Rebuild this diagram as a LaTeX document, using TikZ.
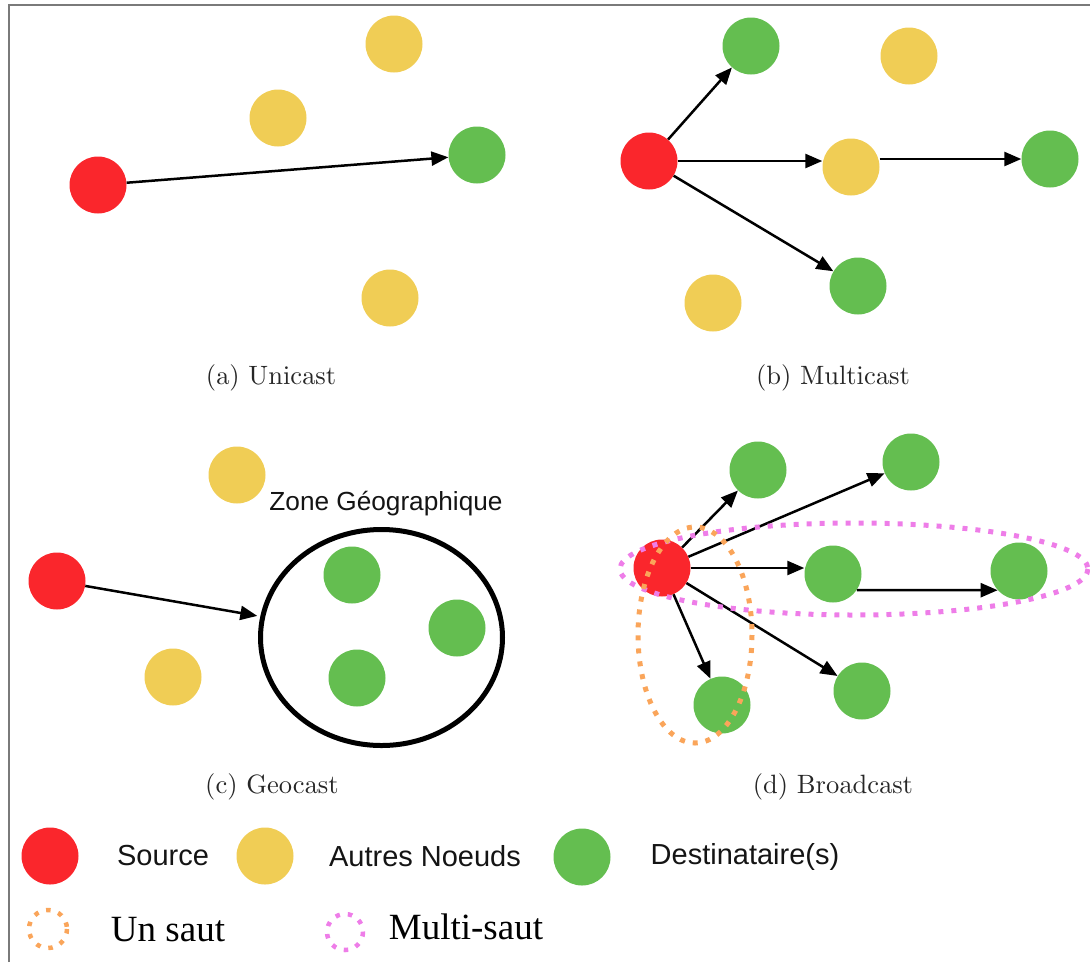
\documentclass[tikz,border=0pt]{standalone}
\usepackage{fontspec}
\setsansfont{Liberation Sans}
\newfontfamily\legserif{Liberation Serif}
\font\capfont=cmr10 at 26.5pt
\usetikzlibrary{arrows.meta,shapes.geometric}

\definecolor{cred}{RGB}{250,38,44}
\definecolor{cyel}{RGB}{240,205,85}
\definecolor{cgrn}{RGB}{100,190,80}
\definecolor{corg}{RGB}{250,165,90}
\definecolor{cmag}{RGB}{238,125,232}
\definecolor{cframe}{RGB}{122,122,122}

\tikzset{
  netnode/.style={circle, minimum size=57pt, inner sep=0pt, draw=none},
  src/.style={netnode, fill=cred},
  oth/.style={netnode, fill=cyel},
  dst/.style={netnode, fill=cgrn},
  link/.style={-{Triangle[length=17pt,width=14pt]}, line width=2.5pt, black},
  captxt/.style={font=\capfont, text=black!85, inner sep=0pt},
  lbl/.style={font=\sffamily\fontsize{29}{31}\selectfont, text=black!92, inner sep=0pt},
  serlbl/.style={font=\legserif\fontsize{37}{40}\selectfont, text=black, inner sep=0pt},
  zone/.style={ellipse, draw=black, line width=5pt, minimum width=242pt, minimum height=216pt, inner sep=0pt},
  hopone/.style={draw=corg, line width=5pt, dash pattern=on 5pt off 8pt},
  hopmulti/.style={draw=cmag, line width=5pt, dash pattern=on 5pt off 8pt},
  frameline/.style={draw=cframe, line width=2.5pt}
}

\begin{document}
\begin{tikzpicture}[x=1pt,y=-1pt]
\useasboundingbox (0,0) rectangle (1090,962);
\draw[frameline] (9,962) -- (9,5) -- (1090,5);

% (a) Unicast
\node[src] (a-s) at (98,185) {};
\node[oth] (a-o1) at (278,118) {};
\node[oth] (a-o2) at (394,44) {};
\node[oth] (a-o3) at (390,298) {};
\node[dst] (a-d) at (477,155) {};
\draw[link] (a-s) -- (a-d);
\node[captxt] (a-cap) at (271,378) {(a) Unicast};

% (b) Multicast
\node[src] (b-s) at (649,161) {};
\node[dst] (b-d1) at (751,46) {};
\node[oth] (b-o1) at (909,56) {};
\node[oth] (b-o2) at (851,167) {};
\node[dst] (b-d2) at (1050,159) {};
\node[dst] (b-d3) at (858,286) {};
\node[oth] (b-o3) at (713,303) {};
\draw[link] (b-s) -- (b-d1);
\draw[link] (b-s.east) -- (b-s.east -| b-o2.west);
\draw[link] (b-d2.west -| b-o2.east) -- (b-d2.west);
\draw[link] (b-s) -- (b-d3);
\node[captxt] (b-cap) at (833,378) {(b) Multicast};

% (c) Geocast
\node[oth] (c-o1) at (237,475) {};
\node[src] (c-s) at (57,581) {};
\node[oth] (c-o2) at (173,677) {};
\node[zone] (c-z) at (381.5,637.5) {};
\node[dst] (c-d1) at (352,575) {};
\node[dst] (c-d2) at (457,628) {};
\node[dst] (c-d3) at (357,678) {};
\draw[link, shorten >=3pt] (c-s) -- (c-z);
\node[lbl, font=\sffamily\fontsize{26.2}{28}\selectfont] (c-lbl) at (386,504) {Zone Géographique};
\node[captxt] (c-cap) at (272,787) {(c) Geocast};

% (d) Broadcast
\node[src] (d-s) at (662,568) {};
\node[dst] (d-d1) at (758,470) {};
\node[dst] (d-d2) at (911,462) {};
\node[dst] (d-d3) at (833,574) {};
\node[dst] (d-d4) at (1019,571) {};
\node[dst] (d-d5) at (862,691) {};
\node[dst] (d-d6) at (722,705) {};
\draw[link] (d-s) -- (d-d1);
\draw[link] (d-s) -- (d-d2);
\draw[link] (d-s.east) -- (d-s.east -| d-d3.west);
\draw[link] (d-d3.-34) -- (d-d4.222);
\draw[link] (d-s) -- (d-d5);
\draw[link] (d-s) -- (d-d6);
\draw[hopmulti] (854,569) ellipse [x radius=234, y radius=46];
\draw[hopone] (695,635) ellipse [x radius=57, y radius=108];
\node[captxt] (d-cap) at (833,787) {(d) Broadcast};

% legend
\node[src] (l-s) at (50,856) {};
\node[lbl] (l-st) at (163,856) {Source};
\node[oth] (l-o) at (265,856) {};
\node[lbl] (l-ot) at (425,856) {Autres Noeuds};
\node[dst] (l-d) at (582,857) {};
\node[lbl] (l-dt) at (745,857) {Destinataire(s)};
\draw[hopone, line width=4.5pt, dash pattern=on 4.5pt off 8pt] (48,929) circle (19);
\node[serlbl] (l-one) at (168,930) {Un saut};
\draw[hopmulti, line width=4.5pt, dash pattern=on 4.5pt off 8pt] (345,932) circle (18);
\node[serlbl] (l-multi) at (466,927) {Multi-saut};
\end{tikzpicture}
\end{document}
